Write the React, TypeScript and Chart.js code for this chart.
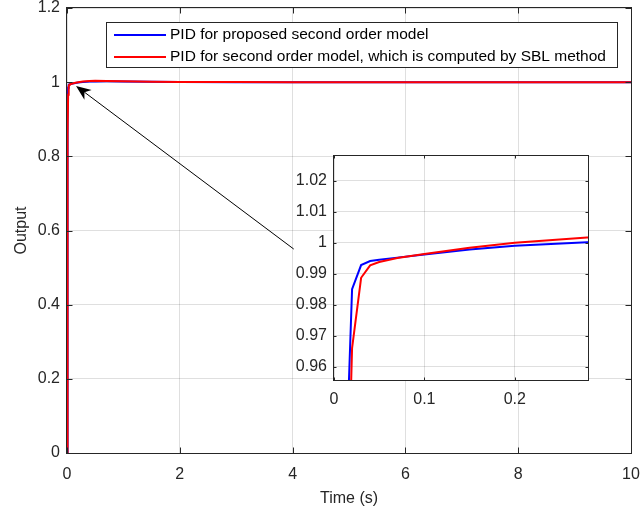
import React, { useEffect, useRef } from "react";
import { Chart, registerables } from "chart.js";
Chart.register(...registerables);

// ---- data ----
const timeBlue = [0, 0.01, 0.02, 0.03, 0.04, 0.05, 0.07, 0.1, 0.15, 0.2, 0.28, 0.4, 0.5, 0.7, 1, 1.5, 2, 3, 4, 6, 8, 10];
const outputBlue = [0, 0.9, 0.985, 0.9928, 0.9941, 0.9945, 0.9952, 0.9962, 0.9978, 0.999, 1.0002, 1.0015, 1.002, 1.0022, 1.0018, 1.0008, 1.0003, 1.0001, 1.0, 1.0, 1.0, 1.0];
const timeRed = [0, 0.01, 0.02, 0.03, 0.04, 0.05, 0.07, 0.1, 0.15, 0.2, 0.28, 0.4, 0.5, 0.7, 1, 1.5, 2, 3, 4, 6, 8, 10];
const outputRed = [0, 0.86, 0.966, 0.9887, 0.9927, 0.9938, 0.9951, 0.9964, 0.9984, 1.0, 1.0017, 1.0032, 1.0036, 1.0034, 1.0025, 1.0012, 1.0005, 1.0002, 1.0, 1.0, 1.0, 1.0];
const seriesLabels = [
  "PID for proposed second order model",
  "PID for second order model, which is computed by SBL method",
];
const mainXTicks = [0, 2, 4, 6, 8, 10];
const mainYTicks = [0, 0.2, 0.4, 0.6, 0.8, 1, 1.2];
const insetXTicks = [0, 0.1, 0.2];
const insetYTicks = [0.96, 0.97, 0.98, 0.99, 1, 1.01, 1.02];
const mainXRange = [0, 10];
const mainYRange = [0, 1.2];
const insetXRange = [0, 0.281];
const insetYRange = [0.9557, 1.028];
const arrowTail = [4.02, 0.55];
const arrowHead = [0.16, 0.99];

// ---- styles ----
const FONT = '"Liberation Sans", Arial, Helvetica, sans-serif';
const TEXT = "#262626";
const GRID = "rgba(38,38,38,0.15)";
const BLUE = "#0000ff";
const RED = "#ff0000";

const fmt = (v: any) => String(Math.round(Number(v) * 1000) / 1000);

function makeDatasets(width: number) {
  return [
    {
      label: seriesLabels[0],
      data: timeBlue.map((t, i) => ({ x: t, y: outputBlue[i] })),
      borderColor: BLUE,
      backgroundColor: BLUE,
      borderWidth: width,
      pointRadius: 0,
      tension: 0,
      fill: false,
      order: 1,
    },
    {
      label: seriesLabels[1],
      data: timeRed.map((t, i) => ({ x: t, y: outputRed[i] })),
      borderColor: RED,
      backgroundColor: RED,
      borderWidth: width,
      pointRadius: 0,
      tension: 0,
      fill: false,
      order: 0,
    },
  ];
}

const plotBg = (fullCanvas: boolean) => ({
  id: "plotBg",
  beforeDraw(chart: any) {
    const { ctx, chartArea: a } = chart;
    ctx.save();
    ctx.fillStyle = "#ffffff";
    if (fullCanvas) ctx.fillRect(0, 0, chart.width, chart.height);
    else ctx.fillRect(a.left - 1, a.top - 1, a.right - a.left + 2, a.bottom - a.top + 2);
    ctx.restore();
  },
});

const frame = (tickLen: number) => ({
  id: "frame",
  afterDraw(chart: any) {
    const { ctx, chartArea: a, scales } = chart;
    const L = Math.round(a.left) - 0.5;
    const R = Math.round(a.right) + 0.5;
    const T = Math.round(a.top) - 0.5;
    const B = Math.round(a.bottom) + 0.5;
    ctx.save();
    ctx.strokeStyle = TEXT;
    ctx.lineWidth = 1;
    ctx.strokeRect(L, T, R - L, B - T);
    ctx.beginPath();
    scales.x.ticks.forEach((t: any) => {
      const px = Math.round(scales.x.getPixelForValue(t.value)) + 0.5;
      ctx.moveTo(px, B);
      ctx.lineTo(px, B - tickLen);
      ctx.moveTo(px, T);
      ctx.lineTo(px, T + tickLen);
    });
    scales.y.ticks.forEach((t: any) => {
      const py = Math.round(scales.y.getPixelForValue(t.value)) + 0.5;
      ctx.moveTo(L, py);
      ctx.lineTo(L + tickLen, py);
      ctx.moveTo(R, py);
      ctx.lineTo(R - tickLen, py);
    });
    ctx.stroke();
    ctx.restore();
  },
});

const arrowPlugin = {
  id: "arrow",
  afterDatasetsDraw(chart: any) {
    const { ctx, scales } = chart;
    const x0 = scales.x.getPixelForValue(arrowTail[0]);
    const y0 = scales.y.getPixelForValue(arrowTail[1]);
    const x1 = scales.x.getPixelForValue(arrowHead[0]);
    const y1 = scales.y.getPixelForValue(arrowHead[1]);
    const ang = Math.atan2(y1 - y0, x1 - x0);
    const len = 15;
    const hw = 6;
    const bx = x1 - len * Math.cos(ang);
    const by = y1 - len * Math.sin(ang);
    const nx = x1 - len * 0.7 * Math.cos(ang);
    const ny = y1 - len * 0.7 * Math.sin(ang);
    const px = -Math.sin(ang);
    const py = Math.cos(ang);
    ctx.save();
    ctx.strokeStyle = "#000";
    ctx.lineWidth = 1;
    ctx.beginPath();
    ctx.moveTo(x0, y0);
    ctx.lineTo(nx, ny);
    ctx.stroke();
    ctx.fillStyle = "#000";
    ctx.beginPath();
    ctx.moveTo(x1, y1);
    ctx.lineTo(bx + px * hw, by + py * hw);
    ctx.lineTo(nx, ny);
    ctx.lineTo(bx - px * hw, by - py * hw);
    ctx.closePath();
    ctx.fill();
    ctx.restore();
  },
};

const legendPlugin = {
  id: "mlegend",
  afterDatasetsDraw(chart: any) {
    const { ctx } = chart;
    const left = 106.5, top = 22.5, w = 511, h = 45;
    ctx.save();
    ctx.fillStyle = "#fff";
    ctx.fillRect(left, top, w, h);
    ctx.strokeStyle = TEXT;
    ctx.lineWidth = 1;
    ctx.strokeRect(left, top, w, h);
    const rows = [
      { y: 35, color: BLUE, text: seriesLabels[0] },
      { y: 57, color: RED, text: seriesLabels[1] },
    ];
    ctx.font = `15.5px ${FONT}`;
    ctx.textBaseline = "middle";
    rows.forEach((r) => {
      ctx.strokeStyle = r.color;
      ctx.lineWidth = 2;
      ctx.beginPath();
      ctx.moveTo(114, r.y);
      ctx.lineTo(166, r.y);
      ctx.stroke();
      ctx.fillStyle = "#000";
      ctx.fillText(r.text, 170, r.y);
    });
    ctx.restore();
  },
};

const fitX = (h: number) => (s: any) => {
  s.height = h;
  s.paddingLeft = 0;
  s.paddingRight = 0;
};
const fitY = (w: number) => (s: any) => {
  s.width = w;
  s.paddingTop = 0;
  s.paddingBottom = 0;
};

function mainConfig(): any {
  return {
    type: "line",
    data: { datasets: makeDatasets(2) },
    options: {
      responsive: false,
      animation: false,
      devicePixelRatio: 1,
      layout: { padding: { top: 8, right: 11, left: 0, bottom: 0 } },
      plugins: { legend: { display: false }, tooltip: { enabled: false } },
      scales: {
        x: {
          type: "linear",
          min: mainXRange[0],
          max: mainXRange[1],
          afterBuildTicks: (s: any) => {
            s.ticks = mainXTicks.map((v) => ({ value: v }));
          },
          afterFit: fitX(61),
          ticks: { callback: fmt, color: TEXT, font: { family: FONT, size: 16 }, padding: 12, maxRotation: 0, autoSkip: false },
          grid: { color: GRID, drawTicks: false },
          border: { display: false },
          title: { display: true, text: "Time (s)", color: TEXT, font: { family: FONT, size: 16 }, padding: { top: 0, bottom: 6 } },
        },
        y: {
          type: "linear",
          min: mainYRange[0],
          max: mainYRange[1],
          afterBuildTicks: (s: any) => {
            s.ticks = mainYTicks.map((v) => ({ value: v }));
          },
          afterFit: fitY(67),
          ticks: { callback: fmt, color: TEXT, font: { family: FONT, size: 16, lineHeight: 1 }, padding: 7, autoSkip: false },
          grid: { color: GRID, drawTicks: false },
          border: { display: false },
          title: { display: true, text: "Output", color: TEXT, font: { family: FONT, size: 16 }, padding: { top: 12, bottom: 0 } },
        },
      },
    },
    plugins: [plotBg(true), legendPlugin, arrowPlugin, frame(6)],
  };
}

function insetConfig(): any {
  return {
    type: "line",
    data: { datasets: makeDatasets(2) },
    options: {
      responsive: false,
      animation: false,
      devicePixelRatio: 1,
      layout: { padding: { top: 16, right: 22, left: 0, bottom: 0 } },
      plugins: { legend: { display: false }, tooltip: { enabled: false } },
      scales: {
        x: {
          type: "linear",
          min: insetXRange[0],
          max: insetXRange[1],
          afterBuildTicks: (s: any) => {
            s.ticks = insetXTicks.map((v) => ({ value: v }));
          },
          afterFit: fitX(40),
          ticks: { callback: fmt, color: TEXT, font: { family: FONT, size: 16 }, padding: 10, maxRotation: 0, autoSkip: false },
          grid: { color: GRID, drawTicks: false },
          border: { display: false },
        },
        y: {
          type: "linear",
          min: insetYRange[0],
          max: insetYRange[1],
          afterBuildTicks: (s: any) => {
            s.ticks = insetYTicks.map((v) => ({ value: v }));
          },
          afterFit: fitY(64),
          ticks: { callback: fmt, color: TEXT, font: { family: FONT, size: 16, lineHeight: 1 }, padding: 7, autoSkip: false },
          grid: { color: GRID, drawTicks: false },
          border: { display: false },
        },
      },
    },
    plugins: [plotBg(false), frame(3)],
  };
}

export default function App() {
  const mainRef = useRef<HTMLCanvasElement>(null);
  const insetRef = useRef<HTMLCanvasElement>(null);
  useEffect(() => {
    const main = new Chart(mainRef.current as HTMLCanvasElement, mainConfig());
    const inset = new Chart(insetRef.current as HTMLCanvasElement, insetConfig());
    return () => {
      main.destroy();
      inset.destroy();
    };
  }, []);
  return (
    <div style={{ position: "absolute", left: 0, top: 0, width: 642, height: 514, background: "#fff" }}>
      <canvas ref={mainRef} width={642} height={514} style={{ position: "absolute", left: 0, top: 0 }} />
      <canvas ref={insetRef} width={340} height={280} style={{ position: "absolute", left: 270, top: 140 }} />
    </div>
  );
}
